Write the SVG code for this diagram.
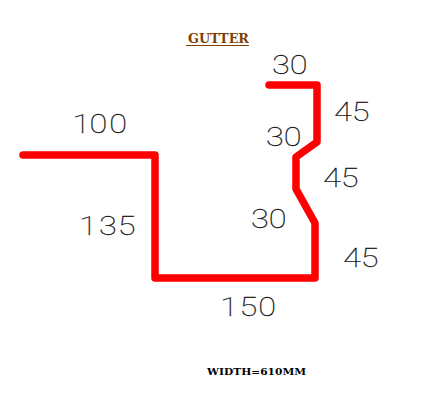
<svg xmlns="http://www.w3.org/2000/svg" width="435" height="411" viewBox="0 0 435 411">
<style>
.d{font-family:"Roboto","Liberation Sans",sans-serif;font-weight:100;font-size:26px;fill:#111;stroke:#111;stroke-width:.25}
.t{font-family:"DejaVu Serif","Liberation Serif",serif;font-weight:bold}
</style>
<rect width="435" height="411" fill="#fff"/>
<g id="gutter-profile">
<path d="M23 155H155V278H315V223L296 189V157L317 142V85H269" fill="none" stroke="#f00" stroke-width="7.5" stroke-linejoin="round" stroke-linecap="round"/>
</g>
<g id="title">
<text class="t" x="188" y="43" font-size="12" fill="#804000" textLength="61" lengthAdjust="spacingAndGlyphs">GUTTER</text>
<rect x="186" y="45" width="63" height="1" fill="#804000"/>
</g>
<g id="dimensions">
<text class="d" transform="translate(272 74) scale(1.25 1)">30</text>
<text class="d" transform="translate(334 121) scale(1.25 1)">45</text>
<text class="d" transform="translate(266 146) scale(1.25 1)">30</text>
<text class="d" transform="translate(323 187) scale(1.25 1)">45</text>
<text class="d" transform="translate(251 228) scale(1.25 1)">30</text>
<text class="d" transform="translate(343 267) scale(1.25 1)">45</text>
<text class="d" transform="translate(78 133) scale(1.25 1)" x="-4.5 9.2 25">100</text>
<text class="d" transform="translate(86 235) scale(1.25 1)" x="-5.5 10.5 25.5">135</text>
<text class="d" transform="translate(227 316) scale(1.25 1)" x="-5.5 10 25">150</text>
</g>
<g id="width-note">
<text class="t" x="207" y="375" font-size="10" fill="#000" textLength="99" lengthAdjust="spacingAndGlyphs">WIDTH=610MM</text>
</g>
</svg>
